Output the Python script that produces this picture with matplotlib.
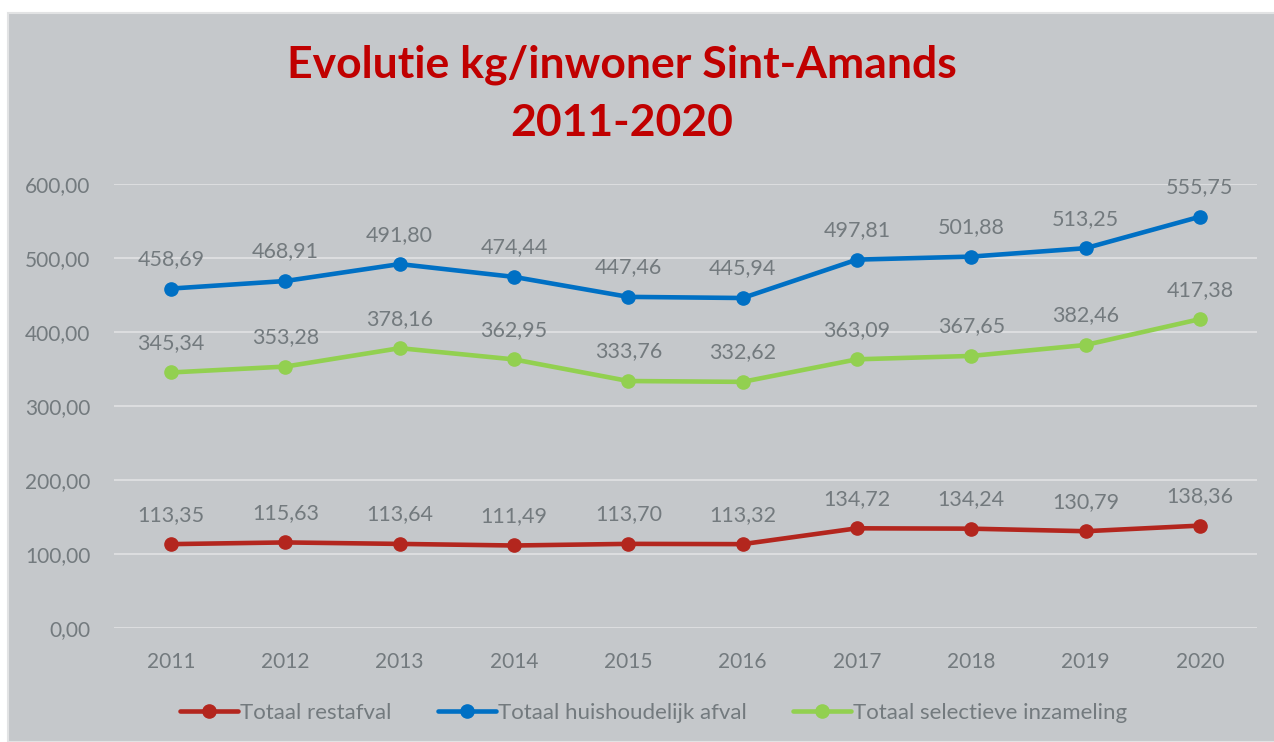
import matplotlib.pyplot as plt

years = ['2011', '2012', '2013', '2014', '2015', '2016', '2017', '2018', '2019', '2020']
restafval = [113.35, 115.63, 113.64, 111.49, 113.70, 113.32, 134.72, 134.24, 130.79, 138.36]
huishoudelijk = [458.69, 468.91, 491.80, 474.44, 447.46, 445.94, 497.81, 501.88, 513.25, 555.75]
selectief = [345.34, 353.28, 378.16, 362.95, 333.76, 332.62, 363.09, 367.65, 382.46, 417.38]

series_names = ['Totaal restafval', 'Totaal huishoudelijk afval', 'Totaal selectieve inzameling']
colors = ['#b3261e', '#0070c4', '#92d050']

bg = '#c5c8cb'
txt = '#737a7e'

plt.rcParams['font.family'] = ['Lato', 'DejaVu Sans']

fig = plt.figure(figsize=(12.74, 7.42), dpi=100)
fig.patch.set_facecolor('white')
# grey chart area with a thin white margin on the top-left
fig.patches.append(plt.Rectangle((8 / 1274, 0), 1, 1 - 13 / 742, transform=fig.transFigure,
                                 facecolor=bg, edgecolor='#e2e3e4', lw=1.5, zorder=-5))

ax = fig.add_axes([114 / 1274, 1 - 628 / 742, (1257 - 114) / 1274, (628 - 184) / 742])
ax.patch.set_alpha(0)

x = list(range(len(years)))
for vals, name, col in zip([restafval, huishoudelijk, selectief], series_names, colors):
    ax.plot(x, vals, color=col, lw=3.3, marker='o', markersize=9.5, label=name,
            solid_capstyle='round', zorder=3)
    for xi, v in zip(x, vals):
        ax.annotate(f'{v:.2f}'.replace('.', ','), (xi, v), xytext=(0, 14),
                    textcoords='offset points', ha='center', va='bottom',
                    fontsize=15.5, color=txt)

ax.set_xlim(-0.5, len(years) - 0.5)
ax.set_ylim(0, 600)
ax.set_yticks(range(0, 601, 100))
ax.set_yticklabels([f'{v},00' for v in range(0, 601, 100)])
ax.set_xticks(x)
ax.set_xticklabels(years)
ax.tick_params(length=0, labelsize=15, labelcolor=txt)
ax.tick_params(axis='y', pad=17)
ax.tick_params(axis='x', pad=17)
ax.grid(axis='y', color='#dcdddf', lw=1.5)
ax.set_axisbelow(True)
for s in ax.spines.values():
    s.set_visible(False)

fig.text(0.488, 1 - 65 / 742, 'Evolutie kg/inwoner Sint-Amands', ha='center', va='center',
         fontsize=32, fontweight='bold', color='#c00000')
fig.text(0.488, 1 - 123 / 742, '2011-2020', ha='center', va='center',
         fontsize=32, fontweight='bold', color='#c00000')

leg = fig.legend(loc='center', bbox_to_anchor=(0.513, 1 - 713 / 742), ncol=3, frameon=False,
                 fontsize=16, labelcolor=txt, handlelength=2.6, handletextpad=0.1, columnspacing=2.1)

fig.savefig('out.png', dpi=100, facecolor=fig.get_facecolor())
